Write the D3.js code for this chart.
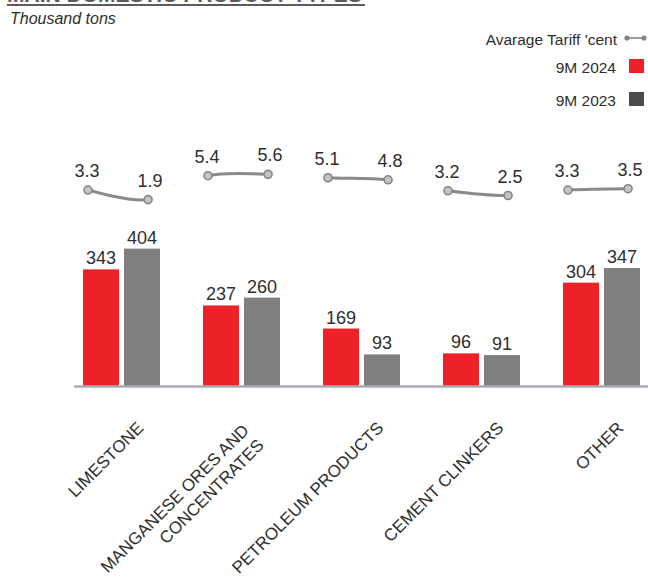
<!DOCTYPE html>
<html>
<head>
<meta charset="utf-8">
<script src="https://cdn.jsdelivr.net/npm/d3@7/dist/d3.min.js"></script>
<style>
  html, body { margin: 0; padding: 0; background: #fff; }
  svg { display: block; font-family: "Liberation Sans", Arial, Helvetica, sans-serif; }
</style>
</head>
<body>
<svg id="chart" width="648" height="577"></svg>
<script>
// Main domestic product types, thousand tons, with average tariff (cent)
const categories = [
  "LIMESTONE",
  "MANGANESE ORES AND\nCONCENTRATES",
  "PETROLEUM PRODUCTS",
  "CEMENT CLINKERS",
  "OTHER"
];
const seriesNames = ["9M 2024", "9M 2023"];
const volume2024 = [343, 237, 169, 96, 304];
const volume2023 = [404, 260, 93, 91, 347];
const tariff2024 = [3.3, 5.4, 5.1, 3.2, 3.3];
const tariff2023 = [1.9, 5.6, 4.8, 2.5, 3.5];

const colors = { "9M 2024": "#ee2129", "9M 2023": "#807e7f" };
const legendColors = { "9M 2024": "#ee2129", "9M 2023": "#4b4b4b" };
const textColor = "#2e2e2e";

const svg = d3.select("#chart");
const W = 648;
const baseY = 386;

// Title (runs off the top edge) and unit note
svg.append("text")
  .attr("x", 7).attr("y", 2)
  .attr("font-size", 21).attr("font-weight", "bold")
  .attr("fill", "#5c5c5c")
  .text("MAIN DOMESTIC PRODUCT TYPES");
svg.append("line")
  .attr("x1", 7).attr("x2", 365).attr("y1", 5).attr("y2", 5)
  .attr("stroke", "#5c5c5c").attr("stroke-width", 2);
svg.append("text")
  .attr("x", 10).attr("y", 24)
  .attr("font-size", 16).attr("font-style", "italic")
  .attr("fill", textColor)
  .text("Thousand tons");

// Scales
const x0 = d3.scaleBand()
  .domain(categories)
  .range([61.5, 661.5])
  .paddingInner(0.358)
  .paddingOuter(0.179);
const x1 = d3.scaleBand()
  .domain(seriesNames)
  .range([0, x0.bandwidth()])
  .paddingInner(0.122);
const y = d3.scaleLinear().domain([0, 400]).range([baseY, baseY - 136]);
const yT = d3.scaleLinear().domain([0, 6]).range([212.6, 171.6]);

const rows = categories.map((c, i) => ({
  cat: c,
  values: [
    { key: "9M 2024", v: volume2024[i] },
    { key: "9M 2023", v: volume2023[i] }
  ],
  t: [tariff2024[i], tariff2023[i]]
}));

// Bars
const groups = svg.append("g").selectAll("g")
  .data(rows).join("g")
  .attr("transform", d => `translate(${x0(d.cat)},0)`);

groups.selectAll("rect")
  .data(d => d.values).join("rect")
  .attr("x", d => x1(d.key))
  .attr("y", d => y(d.v))
  .attr("width", x1.bandwidth())
  .attr("height", d => baseY - y(d.v))
  .attr("fill", d => colors[d.key]);

groups.selectAll("text.val")
  .data(d => d.values).join("text")
  .attr("class", "val")
  .attr("x", d => x1(d.key) + x1.bandwidth() / 2)
  .attr("y", d => y(d.v) - 5)
  .attr("text-anchor", "middle")
  .attr("font-size", 18)
  .attr("fill", textColor)
  .text(d => d.v);

// Baseline
svg.append("line")
  .attr("x1", 74).attr("x2", W)
  .attr("y1", baseY + 0.5).attr("y2", baseY + 0.5)
  .attr("stroke", "#a8abb2").attr("stroke-width", 2.5);

// Tariff points: two per product, drawn as a smooth line clipped to each pair
const bw = x0.bandwidth();
const pts = [];
rows.forEach(r => {
  pts.push({ x: x0(r.cat) + bw * 0.065, y: yT(r.t[0]), v: r.t[0], side: 0 });
  pts.push({ x: x0(r.cat) + bw * 0.845, y: yT(r.t[1]), v: r.t[1], side: 1 });
});

const clip = svg.append("defs").append("clipPath").attr("id", "pairs");
rows.forEach(r => {
  clip.append("rect")
    .attr("x", x0(r.cat) + bw * 0.065)
    .attr("width", bw * 0.78)
    .attr("y", 140).attr("height", 90);
});

const line = d3.line().x(d => d.x).y(d => d.y).curve(d3.curveCardinal);
svg.append("path")
  .attr("d", line(pts))
  .attr("clip-path", "url(#pairs)")
  .attr("fill", "none")
  .attr("stroke", "#8a8a8a")
  .attr("stroke-width", 3)
  .attr("stroke-linecap", "round");

svg.append("g").selectAll("circle")
  .data(pts).join("circle")
  .attr("cx", d => d.x).attr("cy", d => d.y)
  .attr("r", 4)
  .attr("fill", "#c4c4c4")
  .attr("stroke", "#858585")
  .attr("stroke-width", 1.6);

svg.append("g").selectAll("text")
  .data(pts).join("text")
  .attr("x", d => d.x + (d.side ? 2 : -1))
  .attr("y", d => d.y - 13)
  .attr("text-anchor", "middle")
  .attr("font-size", 18)
  .attr("fill", textColor)
  .text(d => d.v.toFixed(1));

// Rotated category labels
const lh = 21;
const labels = svg.append("g").selectAll("g")
  .data(categories).join("g")
  .attr("transform", c => `translate(${x0(c) + bw / 2 + 23},429) rotate(-45)`);
labels.each(function (c) {
  const lines = c.split("\n");
  const t = d3.select(this).append("text")
    .attr("text-anchor", "end")
    .attr("font-size", 17)
    .attr("fill", textColor);
  lines.forEach((s, i) => {
    t.append("tspan")
      .attr("x", lines.length > 1 ? -12 : 0)
      .attr("y", lines.length > 1 ? (i - (lines.length - 1) / 2) * lh + 2 : 0)
      .text(s);
  });
});

// Legend
const lg = svg.append("g");
lg.append("text")
  .attr("x", 617).attr("y", 45)
  .attr("text-anchor", "end").attr("font-size", 15.5)
  .attr("fill", textColor)
  .text("Avarage Tariff 'cent");
lg.append("line")
  .attr("x1", 627).attr("x2", 644).attr("y1", 38).attr("y2", 38)
  .attr("stroke", "#858585").attr("stroke-width", 1.6);
lg.selectAll("circle.m")
  .data([627, 644]).join("circle")
  .attr("class", "m")
  .attr("cx", d => d).attr("cy", 38).attr("r", 2.6)
  .attr("fill", "#858585");

const legendRows = lg.selectAll("g.s")
  .data(seriesNames).join("g")
  .attr("class", "s")
  .attr("transform", (d, i) => `translate(0,${73 + i * 33})`);
legendRows.append("text")
  .attr("x", 616).attr("y", 0)
  .attr("text-anchor", "end").attr("font-size", 15.5)
  .attr("fill", textColor)
  .text(d => d);
legendRows.append("rect")
  .attr("x", 629).attr("y", -14)
  .attr("width", 15).attr("height", 14)
  .attr("fill", d => legendColors[d]);
</script>
</body>
</html>
